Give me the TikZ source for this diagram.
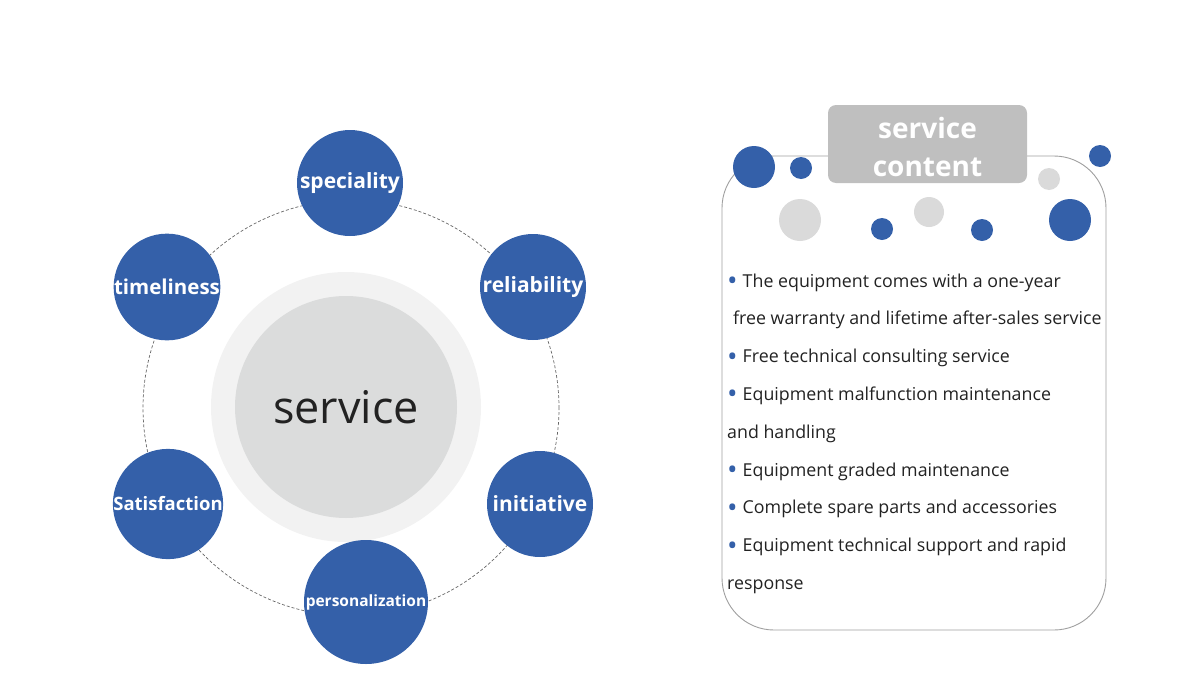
\documentclass[tikz,border=0pt]{standalone}
\usepackage{fontspec}
\setmainfont{Open Sans}
\usepackage{tikz}
\usetikzlibrary{positioning}

\definecolor{dotblue}{HTML}{3460A9}
\definecolor{ringgray}{HTML}{F2F2F2}
\definecolor{coregray}{HTML}{DBDCDC}
\definecolor{titlegray}{HTML}{BFBFBF}
\definecolor{softgray}{HTML}{DADADA}
\definecolor{textdark}{HTML}{222222}

\newcommand{\listdot}{\textcolor{dotblue}{\raisebox{-0.2em}{\fontsize{28}{28}\selectfont •}}\hspace{5pt}}

\begin{document}
\begin{tikzpicture}[
    x=1pt, y=-1pt,
    feature/.style={circle, minimum size=106pt, inner sep=0pt, fill=dotblue, text=white, font=\bfseries\fontsize{21}{21}\selectfont},
    core/.style={circle, minimum size=222pt, inner sep=0pt, fill=coregray, text=textdark, font=\fontsize{45}{45}\selectfont},
    ring/.style={circle, minimum size=270pt, inner sep=0pt, fill=ringgray},
    orbit/.style={draw=gray!80!black, line width=0.7pt, dash pattern=on 3pt off 2pt},
    panel/.style={draw=gray!75, line width=0.9pt, rounded corners=52pt},
    titlebox/.style={rectangle, rounded corners=8pt, fill=titlegray, text=white, minimum width=199pt, minimum height=78pt, align=center, font=\bfseries\fontsize{28}{35}\selectfont},
    listtext/.style={anchor=base west, inner sep=0pt, text=textdark, font=\fontsize{17.8}{17.8}\selectfont}
]
\useasboundingbox (0,0) rectangle (1200,675);

% Left: service wheel
\coordinate (hub) at (351,408);
\draw [orbit] (hub) circle (208pt);
\node (outer) [ring] at (346,407) {};
\node (service) [core] at (346,407) {service};

\node (spec) [feature] at (350,183) {speciality};
\node (time) [feature, font=\bfseries\fontsize{20.5}{20.5}\selectfont] at (167,287) {timeliness};
\node (reli) [feature] at (533,287) {reliability};
\node (sati) [feature, font=\bfseries\fontsize{18.5}{18.5}\selectfont] at (168,504) {Satisfaction};
\node (init) [feature] at (540,504) {initiative};
\node (pers) [feature, minimum size=124pt, font=\bfseries\fontsize{15.5}{15.5}\selectfont] at (366,602) {personalization};

% Right: service content panel
\draw [panel] (722,156) rectangle (1106,630);
\fill [titlegray, rounded corners=8pt] (828,105) rectangle (1027,183);
\node (title) [titlebox, fill=none, minimum height=0pt] at (927.5,147) {service\\[3pt]content};

% Dots
\foreach \px/\py/\r/\c in {754/167/21/dotblue, 801/168/11/dotblue, 800/220/21/softgray,
    882/229/11/dotblue, 929/212/15/softgray, 982/230/11/dotblue,
    1049/179/11/softgray, 1070/220/21/dotblue, 1100/156/11/dotblue}
  \fill [\c] (\px,\py) circle (\r pt);

% List
\foreach \txt [count=\i] in {
    {\listdot The equipment comes with a one-year},
    {\hspace{6pt}free warranty and lifetime after-sales service},
    {\listdot Free technical consulting service},
    {\listdot Equipment malfunction maintenance},
    {and handling},
    {\listdot Equipment graded maintenance},
    {\listdot Complete spare parts and accessories},
    {\listdot Equipment technical support and rapid},
    {response}}
  \node (line\i) [listtext] at (727,{287+37.8*(\i-1)}) {\txt};

\end{tikzpicture}
\end{document}
